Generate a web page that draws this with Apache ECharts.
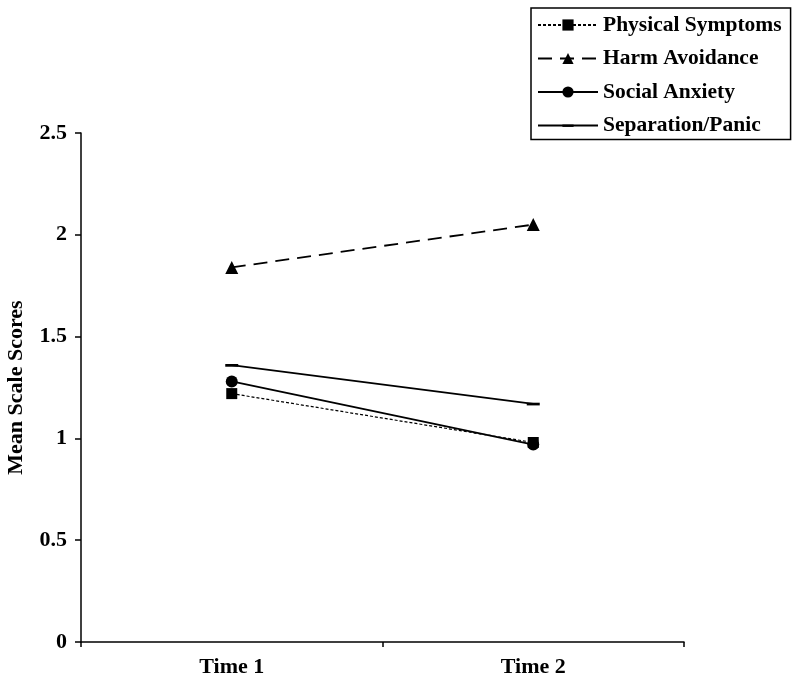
<!DOCTYPE html>
<html><head><meta charset="utf-8">
<script src="https://cdn.jsdelivr.net/npm/echarts@6/dist/echarts.min.js"></script>
<style>html,body{margin:0;padding:0;background:#fff}#c{width:800px;height:690px}</style>
</head><body><div id="c"></div>
<script>
const categories = ['Time 1', 'Time 2'];
const physicalSymptoms = [1.22, 0.98];
const harmAvoidance = [1.84, 2.05];
const socialAnxiety = [1.28, 0.97];
const separationPanic = [1.36, 1.17];
const yTicks = [0, 0.5, 1, 1.5, 2, 2.5];

const font = 'Liberation Serif';
const chart = echarts.init(document.getElementById('c'));
chart.setOption({
  backgroundColor: '#fff',
  animation: false,
  grid: { left: 81, right: 116, top: 133, bottom: 48, outerBoundsMode: 'none', containLabel: false },
  legend: {
    orient: 'vertical', left: 531, top: 8,
    padding: [6, 9, 3, 6], itemGap: 11.5,
    itemWidth: 60, itemHeight: 14,
    borderColor: '#000', borderWidth: 1.5, backgroundColor: '#fff', borderRadius: 0,
    textStyle: { fontFamily: font, fontWeight: 'bold', fontSize: 21.5, lineHeight: 22, color: '#000' },
    data: ['Physical Symptoms', 'Harm Avoidance', 'Social Anxiety', 'Separation/Panic']
  },
  xAxis: {
    type: 'category', data: categories, boundaryGap: true,
    axisLine: { lineStyle: { color: '#000', width: 1.5 } },
    axisTick: { show: true, length: 5, lineStyle: { color: '#000', width: 1.5 } },
    axisLabel: { fontFamily: font, fontWeight: 'bold', fontSize: 22, color: '#000', margin: 14 },
    splitLine: { show: false }
  },
  yAxis: {
    type: 'value', min: 0, max: 2.5, interval: 0.5,
    name: 'Mean Scale Scores', nameLocation: 'middle', nameGap: 54,
    nameTextStyle: { fontFamily: font, fontWeight: 'bold', fontSize: 22, color: '#000' },
    axisLine: { show: true, lineStyle: { color: '#000', width: 1.5 } },
    axisTick: { show: true, length: 6, lineStyle: { color: '#000', width: 1.5 } },
    axisLabel: { fontFamily: font, fontWeight: 'bold', fontSize: 22, color: '#000', margin: 14,
      formatter: v => (yTicks.includes(v) ? String(v) : '') },
    splitLine: { show: false }
  },
  series: [
    { name: 'Physical Symptoms', type: 'line', data: physicalSymptoms,
      symbol: 'rect', symbolSize: 11, itemStyle: { color: '#000' },
      lineStyle: { color: '#000', width: 1.2, type: [3, 2] }, z: 3 },
    { name: 'Harm Avoidance', type: 'line', data: harmAvoidance,
      symbol: 'triangle', symbolSize: 13, itemStyle: { color: '#000' },
      lineStyle: { color: '#000', width: 1.8, type: [14, 8] } },
    { name: 'Social Anxiety', type: 'line', data: socialAnxiety,
      symbol: 'circle', symbolSize: 12, itemStyle: { color: '#000' },
      lineStyle: { color: '#000', width: 1.8 } },
    { name: 'Separation/Panic', type: 'line', data: separationPanic,
      symbol: 'path://M0,0M12,12M0,5H12V7.5H0Z', symbolSize: 13,
      itemStyle: { color: '#000' },
      lineStyle: { color: '#000', width: 1.8 } }
  ]
});
</script></body></html>
